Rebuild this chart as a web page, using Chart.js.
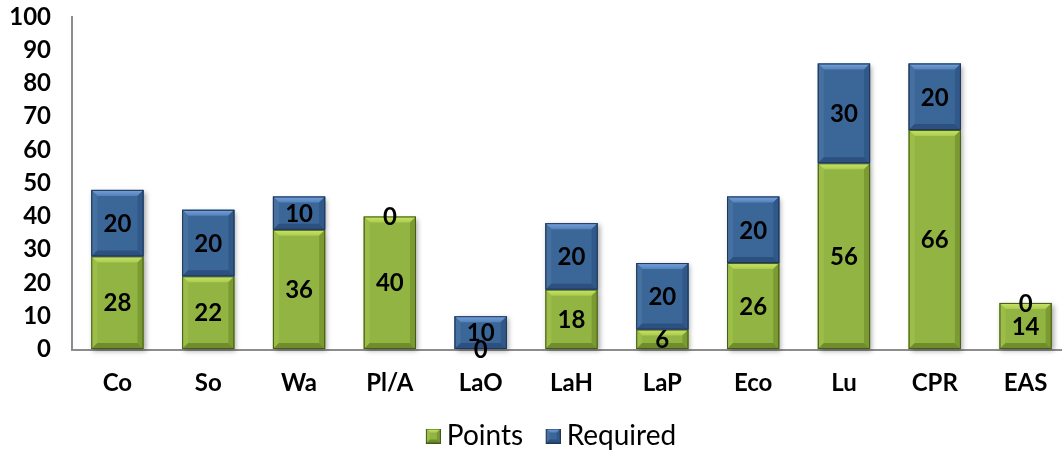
<!DOCTYPE html>
<html>
<head>
<meta charset="utf-8">
<script src="https://cdn.jsdelivr.net/npm/chart.js@4.4.1/dist/chart.umd.min.js"></script>
<style>
  html, body { margin: 0; padding: 0; background: #ffffff; overflow: hidden; }
  #wrap { width: 1062px; height: 451px; overflow: hidden; position: relative; }
  #chart { position: absolute; left: 0; top: 0; }
</style>
</head>
<body>
<div id="wrap"><canvas id="chart" width="1105" height="451"></canvas></div>
<script>
// Categories and series
const categories = ['Co', 'So', 'Wa', 'Pl/A', 'LaO', 'LaH', 'LaP', 'Eco', 'Lu', 'CPR', 'EAS'];
const pointsValues = [28, 22, 36, 40, 0, 18, 6, 26, 56, 66, 14];
const requiredValues = [20, 20, 10, 0, 10, 20, 20, 20, 30, 20, 0];
const seriesNames = ['Points', 'Required'];

// Bevel palettes for each series
const palettes = [
  { base: '#92b443', topHi: '#cbe567', topLo: '#aacb50', left: '#9dbd4a', right: '#7b9a32',
    bottom: '#6f8d2b', edge: '#445a1a' },
  { base: '#3b6698', topHi: '#77a3dc', topLo: '#5481ba', left: '#45709f', right: '#30598a',
    bottom: '#2c5180', edge: '#1f3656' }
];

const FONT = 'Lato, "Open Sans", sans-serif';

function drawBevelRect(ctx, l, t, r, b, pal, size) {
  const w = r - l, h = b - t;
  if (w <= 0 || h <= 0.5) return;
  const s = Math.min(size, h / 3, w / 3);
  ctx.save();
  ctx.fillStyle = pal.base;
  ctx.fillRect(l, t, w, h);
  const poly = (pts, fill) => {
    ctx.beginPath();
    ctx.moveTo(pts[0][0], pts[0][1]);
    for (let i = 1; i < pts.length; i++) ctx.lineTo(pts[i][0], pts[i][1]);
    ctx.closePath();
    ctx.fillStyle = fill;
    ctx.fill();
  };
  const topGrad = ctx.createLinearGradient(0, t, 0, t + s);
  topGrad.addColorStop(0, pal.topHi);
  topGrad.addColorStop(1, pal.topLo);
  poly([[l, t], [r, t], [r - s, t + s], [l + s, t + s]], topGrad);
  poly([[l, t], [l + s, t + s], [l + s, b - s], [l, b]], pal.left);
  poly([[r, t], [r, b], [r - s, b - s], [r - s, t + s]], pal.right);
  poly([[l, b], [l + s, b - s], [r - s, b - s], [r, b]], pal.bottom);
  ctx.strokeStyle = pal.edge;
  ctx.lineWidth = 1;
  ctx.strokeRect(l + 0.5, t + 0.5, w - 1, h - 1);
  ctx.restore();
}

// Bevelled legend squares, placed at the right of a wider transparent canvas
function makeMarker(pal) {
  const c = document.createElement('canvas');
  c.width = 30; c.height = 15;
  drawBevelRect(c.getContext('2d'), 15, 0, 30, 15, pal, 4);
  return c;
}
const markers = palettes.map(makeMarker);

// Shadow plus bevel for every bar segment, drawn from the bar elements' geometry
const bevelBars = {
  id: 'bevelBars',
  afterDatasetsDraw(chart) {
    const ctx = chart.ctx;
    const segs = [];
    chart.data.datasets.forEach((ds, di) => {
      const meta = chart.getDatasetMeta(di);
      meta.data.forEach((el) => {
        const p = el.getProps(['x', 'y', 'base', 'width'], true);
        segs.push({ l: p.x - p.width / 2, r: p.x + p.width / 2,
          t: Math.min(p.y, p.base), b: Math.max(p.y, p.base), pal: palettes[di] });
      });
    });
    ctx.save();
    ctx.shadowColor = 'rgba(0,0,0,0.35)';
    ctx.shadowBlur = 5;
    ctx.shadowOffsetX = 2;
    ctx.shadowOffsetY = 2;
    segs.forEach(s => {
      if (s.b - s.t > 0.5) { ctx.fillStyle = s.pal.base; ctx.fillRect(s.l, s.t, s.r - s.l, s.b - s.t); }
    });
    ctx.restore();
    segs.forEach(s => drawBevelRect(ctx, s.l, s.t, s.r, s.b, s.pal, 6));
  }
};

// Value labels centred in each segment
const valueLabels = {
  id: 'valueLabels',
  afterDatasetsDraw(chart) {
    const ctx = chart.ctx;
    ctx.save();
    ctx.font = 'bold 24px ' + FONT;
    ctx.fillStyle = '#000000';
    ctx.textAlign = 'center';
    ctx.textBaseline = 'middle';
    chart.data.datasets.forEach((ds, di) => {
      const meta = chart.getDatasetMeta(di);
      meta.data.forEach((el, i) => {
        const p = el.getProps(['x', 'y', 'base'], true);
        const cy = (p.y + p.base) / 2;
        ctx.fillText(String(ds.data[i]), p.x, cy + 1);
      });
    });
    ctx.restore();
  }
};

// Nudge the legend a little to the right of the plot's centre line
const legendShift = {
  id: 'legendShift',
  afterLayout(chart) {
    if (chart.legend) { chart.legend.left += 12; chart.legend.right += 12; }
  }
};

new Chart(document.getElementById('chart'), {
  type: 'bar',
  data: {
    labels: categories,
    datasets: [
      { label: seriesNames[0], data: pointsValues, backgroundColor: palettes[0].base,
        categoryPercentage: 1, barPercentage: 0.575 },
      { label: seriesNames[1], data: requiredValues, backgroundColor: palettes[1].base,
        categoryPercentage: 1, barPercentage: 0.575 }
    ]
  },
  options: {
    responsive: false,
    animation: false,
    devicePixelRatio: 1,
    layout: { padding: { left: 0, right: 34, top: 17, bottom: -9 } },
    scales: {
      x: {
        stacked: true,
        grid: { display: false, drawTicks: false },
        border: { display: true, color: '#8c8c8c', width: 2 },
        ticks: { color: '#000000', font: { family: FONT, size: 24, weight: 'bold' }, padding: 19 },
        afterFit(scale) { scale.height = 57; }
      },
      y: {
        stacked: true,
        min: 0, max: 100,
        grid: { display: true, drawOnChartArea: false, drawTicks: true, tickLength: 21,
                color: 'rgba(0,0,0,0)', tickColor: 'rgba(0,0,0,0)' },
        border: { display: true, color: '#8c8c8c', width: 2 },
        ticks: { stepSize: 10, autoSkip: false, color: '#000000',
                 font: { family: FONT, size: 24, weight: 'bold' }, padding: 0 },
        afterFit(scale) { scale.width = 72; }
      }
    },
    plugins: {
      legend: {
        position: 'bottom',
        labels: {
          usePointStyle: true,
          pointStyleWidth: 14,
          color: '#000000',
          font: { family: FONT, size: 28 },
          padding: 15.5,
          generateLabels(chart) {
            const items = Chart.defaults.plugins.legend.labels.generateLabels(chart);
            items.forEach((it, i) => { it.pointStyle = markers[i]; });
            return items;
          }
        }
      },
      tooltip: { enabled: false }
    }
  },
  plugins: [bevelBars, valueLabels, legendShift]
});
</script>
</body>
</html>
